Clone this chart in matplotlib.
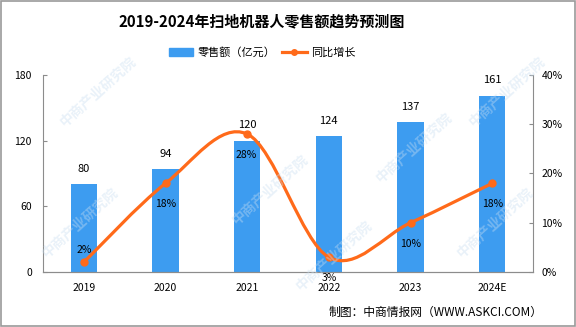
import matplotlib.pyplot as plt
from matplotlib.path import Path
from matplotlib.patches import PathPatch, Rectangle
from matplotlib.lines import Line2D
import numpy as np

plt.rcParams['font.family'] = ['Noto Sans CJK SC', 'DejaVu Sans']

years = ['2019', '2020', '2021', '2022', '2023', '2024E']
sales = [80, 94, 120, 124, 137, 161]        # 零售额（亿元）
growth = [2, 18, 28, 3, 10, 18]             # 同比增长（%）

bar_color = '#3d9cf0'
line_color = '#ff6a1a'
spine_color = '#8c8c8c'

fig = plt.figure(figsize=(5.76, 3.27), dpi=100)
ax = fig.add_axes([0.0747, 0.168, 0.8507, 0.603])
x = np.arange(len(years))

ax.bar(x, sales, width=0.32, color=bar_color, zorder=2)
ax.set_xlim(-0.5, len(years) - 0.5)
ax.set_ylim(0, 180)
ax.set_yticks([0, 60, 120, 180])
ax.set_xticks(x)
ax.set_xticklabels(years)
for xi, v in zip(x, sales):
    ax.annotate(str(v), (xi, v), xytext=(0, 11), textcoords='offset points',
                ha='center', va='center', fontsize=8)

ax2 = ax.twinx()
ax2.set_ylim(0, 40)
ax2.set_yticks([0, 10, 20, 30, 40])
ax2.set_yticklabels([f'{t}%' for t in [0, 10, 20, 30, 40]])

# smoothed line through the growth points (cubic bezier, catmull-rom style)
pts = np.column_stack([x, growth]).astype(float)
verts = [tuple(pts[0])]
codes = [Path.MOVETO]
n = len(pts)
for i in range(n - 1):
    p0 = pts[max(i - 1, 0)]
    p1 = pts[i]
    p2 = pts[i + 1]
    p3 = pts[min(i + 2, n - 1)]
    c1 = p1 + (p2 - p0) / 6
    c2 = p2 - (p3 - p1) / 6
    verts += [tuple(c1), tuple(c2), tuple(p2)]
    codes += [Path.CURVE4] * 3
ax2.add_patch(PathPatch(Path(verts, codes), fill=False, edgecolor=line_color,
                        lw=2.3, zorder=3, capstyle='round'))
ax2.plot(x, growth, 'o', color=line_color, ms=5, zorder=4)
for i, (xi, g) in enumerate(zip(x, growth)):
    dy = 9 if i == 0 else -15
    ax2.annotate(f'{g}%', (xi, g), xytext=(-1 if i == 2 else 0, dy),
                 textcoords='offset points', ha='center', va='center',
                 fontsize=7.5, zorder=5)

for a in (ax, ax2):
    a.spines['top'].set_visible(False)
    for s in ('left', 'right', 'bottom'):
        a.spines[s].set_color(spine_color)
    a.tick_params(axis='y', direction='in', length=3, color=spine_color,
                  labelsize=7.5)
ax.spines['right'].set_visible(False)
ax2.spines['left'].set_visible(False)
ax.tick_params(axis='x', length=0, labelsize=7.5, pad=8)
ax.tick_params(axis='y', pad=8)
ax2.tick_params(axis='y', pad=6)

handles = [Rectangle((0, 0), 1, 1, color=bar_color),
           Line2D([0], [0], color=line_color, lw=2.3, marker='o', ms=4)]
fig.legend(handles, ['零售额（亿元）', '同比增长'], loc='center',
           bbox_to_anchor=(0.455, 0.84), ncol=2, frameon=False, fontsize=8,
           handlelength=2.2, handletextpad=0.4, columnspacing=0.6)

fig.text(0.455, 0.936, '2019-2024年扫地机器人零售额趋势预测图', ha='center',
         va='center', fontsize=10.8, fontweight='bold')
fig.text(0.941, 0.046, '制图：中商情报网（WWW.ASKCI.COM）', ha='right',
         va='center', fontsize=8.5)

# faint watermark
for wx, wy in [(0.17, 0.72), (0.47, 0.42), (0.72, 0.55), (0.14, 0.32),
               (0.58, 0.22), (0.86, 0.32), (0.88, 0.72)]:
    fig.text(wx, wy, '中商产业研究院', rotation=42, ha='center', va='center',
             fontsize=10, fontweight='bold', color='#c9def0', alpha=0.4,
             zorder=10)

fig.patches.append(Rectangle((0.001, 0.002), 0.997, 0.995, transform=fig.transFigure,
                             fill=False, edgecolor='#9a9a9a', lw=1.2))

fig.savefig('out.png', dpi=100)
